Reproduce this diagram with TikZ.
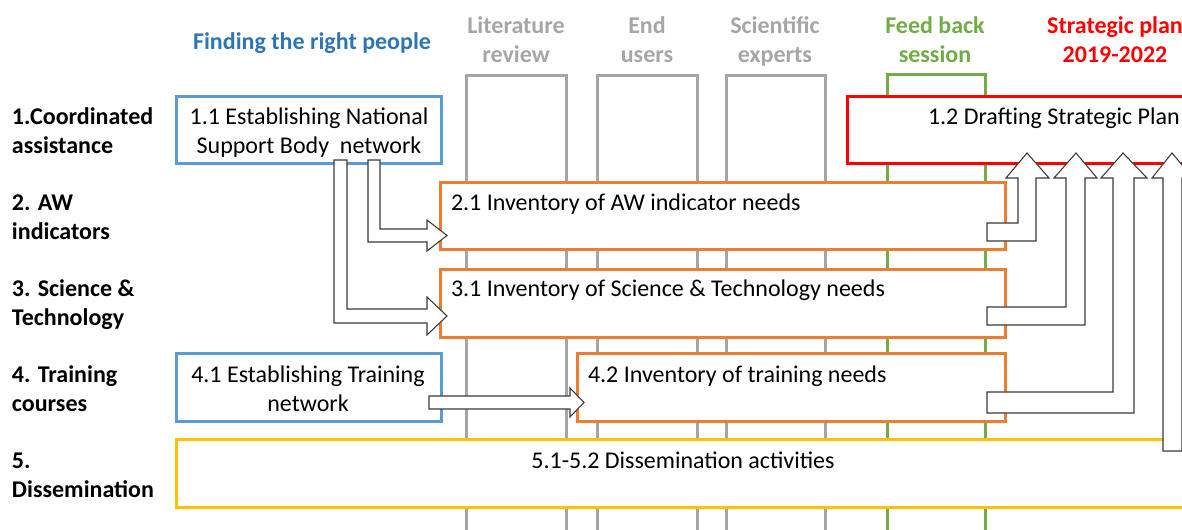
\documentclass[tikz,border=0pt]{standalone}
\usepackage{fontspec}
\setmainfont{Carlito}
\definecolor{nbblue}{HTML}{5B9BD5}
\definecolor{hdrblue}{HTML}{2E75B6}
\definecolor{colgray}{HTML}{A5A5A5}
\definecolor{hdrgray}{HTML}{A6A6A6}
\definecolor{fbgreen}{HTML}{70AD47}
\definecolor{orng}{HTML}{ED7D31}
\definecolor{ylw}{HTML}{FFC000}
\definecolor{spred}{HTML}{FF0000}
\definecolor{arrowgray}{HTML}{3A3A3A}
\begin{document}
\begin{tikzpicture}[x=0.75pt,y=-0.75pt,
  every node/.style={inner sep=0pt, outer sep=0pt},
  txt/.style={font=\fontsize{18}{21.75}\selectfont, anchor=base},
  hdr/.style={font=\fontsize{18}{21.75}\selectfont\bfseries, anchor=base, align=center},
  rowlbl/.style={font=\fontsize{18}{21.75}\selectfont\bfseries, anchor=base west, align=left},
  col/.style={line width=2.25pt},
  box/.style={rectangle, draw, fill=white, line width=2.25pt},
  blockarrow/.style={draw=arrowgray, fill=white, line width=0.8pt, line join=miter},
]
\useasboundingbox (0,0) rectangle (1182,530);
\clip (0,0) rectangle (1182,530);

% column headers (multi-line nodes are placed at the baseline of their last line)
\node[hdr, text=hdrblue] (hpeople) at (312,50) {Finding the right people};
\node[hdr, text=hdrgray] (hlit) at (516,63) {Literature\\review};
\node[hdr, text=hdrgray] (hend) at (647,63) {End\\users};
\node[hdr, text=hdrgray] (hsci) at (775,63) {Scientific\\experts};
\node[hdr, text=fbgreen] (hfb) at (935,63) {Feed back\\session};
\node[hdr, text=spred] (hsp) at (1115,63) {Strategic plan\\2019-2022};

% columns
\draw[col, draw=colgray] (466,540) -- (466,76) -- (566,76) -- (566,540);
\draw[col, draw=colgray] (597,540) -- (597,76) -- (697,76) -- (697,540);
\draw[col, draw=colgray] (726,540) -- (726,76) -- (825,76) -- (825,540);
\draw[col, draw=fbgreen] (887,540) -- (887,75) -- (985,75) -- (985,540);

% row labels
\node[rowlbl] (r1) at (12,154) {1.Coordinated\\assistance};
\node[rowlbl] (r2) at (12,240) {2. AW\\indicators};
\node[rowlbl] (r3) at (12,326) {3. Science \&\\Technology};
\node[rowlbl] (r4) at (12,412) {4. Training\\courses};
\node[rowlbl] (r5) at (12,498) {5.\\Dissemination};

% boxes
\node[box, draw=nbblue, minimum width=198.75pt, minimum height=50.25pt] (b11) at (308.5,130.5) {};
\node[box, draw=spred, minimum width=332.25pt, minimum height=50.25pt] (b12) at (1068.5,130.5) {};
\node[box, draw=orng, minimum width=423.75pt, minimum height=50.25pt] (b21) at (722.5,216.5) {};
\node[box, draw=orng, minimum width=423.75pt, minimum height=51pt] (b31) at (722.5,304) {};
\node[box, draw=nbblue, minimum width=198.75pt, minimum height=51pt] (b41) at (308.5,388) {};
\node[box, draw=orng, minimum width=321pt, minimum height=51pt] (b42) at (791,388) {};
\node[box, draw=ylw, minimum width=768pt, minimum height=51pt] (b5) at (688,474) {};

% box texts
\node[txt, align=center] (t11) at (309,154) {1.1 Establishing National\\Support Body~ network};
\node[txt, anchor=base west] (t12) at (928,125) {1.2 Drafting Strategic Plan};
\node[txt, anchor=base west] (t21) at (451,211) {2.1 Inventory of AW indicator needs};
\node[txt, anchor=base west] (t31) at (451,297) {3.1 Inventory of Science \& Technology needs};
\node[txt, align=center] (t41) at (308,412) {4.1 Establishing Training\\network};
\node[txt, anchor=base west] (t42) at (588,383) {4.2 Inventory of training needs};
\node[txt] (t5) at (683,469) {5.1-5.2 Dissemination activities};

% block arrows
\draw[blockarrow] (368,160) -- (368,242) -- (427,242) -- (427,251) -- (447,235.5) -- (427,220) -- (427,229) -- (380,229) -- (380,160) -- cycle;
\draw[blockarrow] (334,160) -- (334,323) -- (427,323) -- (427,335) -- (447,316) -- (427,297) -- (427,309) -- (347,309) -- (347,160) -- cycle;
\draw[blockarrow] (429,396) -- (570,396) -- (570,388) -- (584,402.5) -- (570,417) -- (570,409) -- (429,409) -- cycle;
\draw[blockarrow] (987,223) -- (1018,223) -- (1018,178) -- (1006,178) -- (1027,153) -- (1049,178) -- (1036,178) -- (1036,241) -- (987,241) -- cycle;
\draw[blockarrow] (987,307) -- (1066,307) -- (1066,178) -- (1054,178) -- (1076,153) -- (1097,178) -- (1085,178) -- (1085,325) -- (987,325) -- cycle;
\draw[blockarrow] (987,392) -- (1113,392) -- (1113,178) -- (1101,178) -- (1123,153) -- (1147,178) -- (1134,178) -- (1134,413) -- (987,413) -- cycle;
\draw[blockarrow] (1163,451) -- (1163,178) -- (1152,178) -- (1172,153) -- (1193,178) -- (1182,178) -- (1182,451) -- cycle;
\end{tikzpicture}
\end{document}
